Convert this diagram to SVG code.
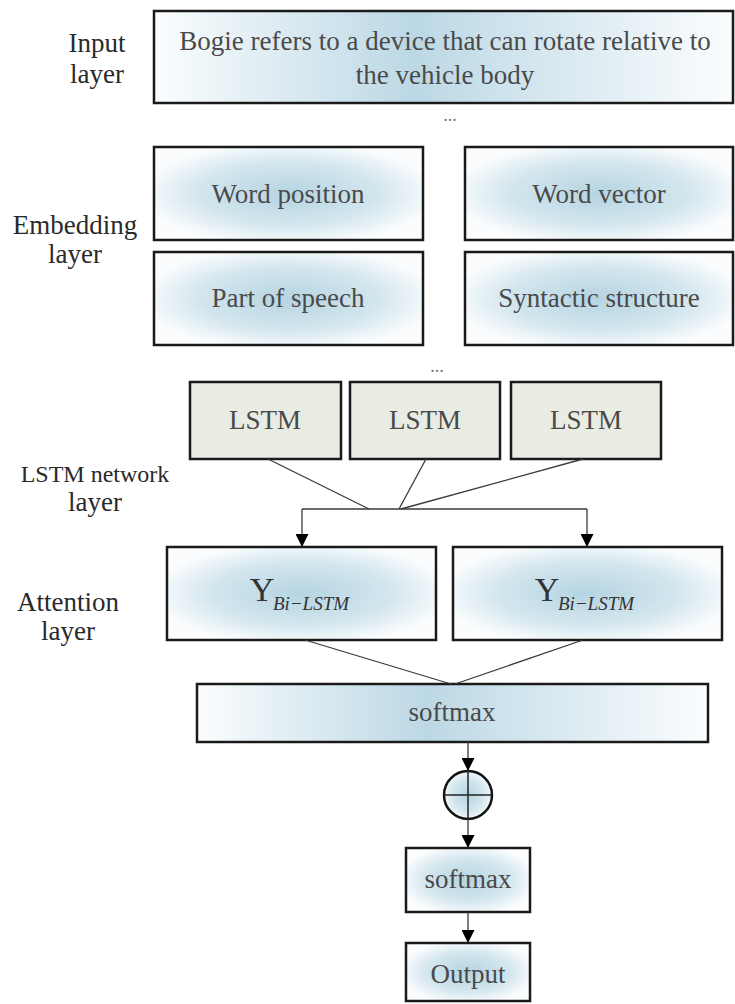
<svg xmlns="http://www.w3.org/2000/svg" width="735" height="1004" viewBox="0 0 735 1004">
<defs>
<radialGradient id="blue" cx="0.5" cy="0.5" r="0.55">
<stop offset="0" stop-color="#b5d4e2"/>
<stop offset="0.6" stop-color="#d3e6ee"/>
<stop offset="1" stop-color="#fafcfd"/>
</radialGradient>
<linearGradient id="bluelin" x1="0" y1="0" x2="1" y2="0">
<stop offset="0" stop-color="#fbfdfe"/>
<stop offset="0.45" stop-color="#bcd8e5"/>
<stop offset="1" stop-color="#fbfdfe"/>
</linearGradient>
<marker id="arr" viewBox="0 0 10 10" refX="10" refY="5" markerWidth="13" markerHeight="13" markerUnits="userSpaceOnUse" orient="auto">
<path d="M0,0 L10,5 L0,10 z" fill="#000"/>
</marker>
<style>
.box{fill:url(#blue);stroke:#1a1a1a;stroke-width:2.5}
.lbox{fill:url(#bluelin);stroke:#1a1a1a;stroke-width:2.5}
.gbox{fill:#e9ece3;stroke:#1a1a1a;stroke-width:2.5}
.t{font-family:'Liberation Serif',serif;font-size:27px;fill:#4a4a4a;text-anchor:middle}
.lab{font-family:'Liberation Serif',serif;font-size:27px;fill:#2a2a2a;text-anchor:middle}
.lab2{font-family:'Liberation Serif',serif;font-size:24px;fill:#2a2a2a;text-anchor:middle}
.y{font-family:'Liberation Serif',serif;font-size:34px;fill:#333;text-anchor:middle}
.sub{font-family:'Liberation Serif',serif;font-size:19px;font-style:italic;fill:#333;text-anchor:middle}
.con{stroke:#3a3a3a;stroke-width:1.3;fill:none}
.dots{font-family:'Liberation Serif',serif;font-size:18px;fill:#777;text-anchor:middle}
</style>
</defs>
<rect width="735" height="1004" fill="#fff"/>

<g id="labels">
<text class="lab" x="97" y="52">Input</text>
<text class="lab" x="97" y="83">layer</text>
<text class="lab" x="75" y="234">Embedding</text>
<text class="lab" x="75" y="263">layer</text>
<text class="lab2" x="95" y="482">LSTM network</text>
<text class="lab" x="95" y="511">layer</text>
<text class="lab" x="68" y="611">Attention</text>
<text class="lab" x="68" y="640">layer</text>
</g>

<g id="input">
<rect class="lbox" x="154" y="11" width="579" height="92"/>
<text class="t" x="445" y="50">Bogie refers to a device that can rotate relative to</text>
<text class="t" x="445" y="84">the vehicle body</text>
</g>
<text class="dots" x="450" y="121">...</text>

<g id="word-position">
<rect class="box" x="154" y="147" width="269" height="93"/>
<text class="t" x="288" y="203">Word position</text>
</g>
<g id="word-vector">
<rect class="box" x="465" y="147" width="268" height="93"/>
<text class="t" x="599" y="203">Word vector</text>
</g>
<g id="part-of-speech">
<rect class="box" x="154" y="252" width="269" height="93"/>
<text class="t" x="288" y="307">Part of speech</text>
</g>
<g id="syntactic-structure">
<rect class="box" x="465" y="252" width="268" height="93"/>
<text class="t" x="599" y="307">Syntactic structure</text>
</g>
<text class="dots" x="437" y="372">...</text>

<g id="lstm1">
<rect class="gbox" x="190" y="382" width="151" height="77"/>
<text class="t" x="265" y="429">LSTM</text>
</g>
<g id="lstm2">
<rect class="gbox" x="350" y="382" width="150" height="77"/>
<text class="t" x="425" y="429">LSTM</text>
</g>
<g id="lstm3">
<rect class="gbox" x="511" y="382" width="150" height="77"/>
<text class="t" x="586" y="429">LSTM</text>
</g>

<g id="attention1">
<rect class="box" x="167" y="547" width="269" height="93"/>
<text class="y" x="262" y="601">Y</text>
<text class="sub" x="311" y="610">Bi−LSTM</text>
</g>
<g id="attention2">
<rect class="box" x="453" y="547" width="269" height="93"/>
<text class="y" x="547" y="601">Y</text>
<text class="sub" x="596" y="610">Bi−LSTM</text>
</g>

<g id="softmax-wide">
<rect class="lbox" x="197" y="684" width="511" height="58"/>
<text class="t" x="452" y="721">softmax</text>
</g>

<g id="sum">
<circle cx="468" cy="795" r="24" fill="url(#blue)" stroke="#111" stroke-width="2.5"/>
<line x1="444" y1="795" x2="492" y2="795" stroke="#222" stroke-width="1.5"/>
<line x1="468" y1="771" x2="468" y2="819" stroke="#222" stroke-width="1.5"/>
</g>

<g id="softmax-small">
<rect class="box" x="406" y="848" width="124" height="64"/>
<text class="t" x="468" y="888">softmax</text>
</g>
<g id="output">
<rect class="box" x="406" y="943" width="124" height="58"/>
<text class="t" x="468" y="983">Output</text>
</g>

<g id="connectors">
<line class="con" x1="268" y1="459" x2="369" y2="509"/>
<line class="con" x1="426" y1="459" x2="399" y2="509"/>
<line class="con" x1="583" y1="459" x2="401" y2="509"/>
<line class="con" x1="302" y1="509" x2="587" y2="509"/>
<line class="con" x1="302" y1="509" x2="302" y2="547" marker-end="url(#arr)"/>
<line class="con" x1="587" y1="509" x2="587" y2="547" marker-end="url(#arr)"/>
<line class="con" x1="305" y1="640" x2="451" y2="684"/>
<line class="con" x1="583" y1="640" x2="455" y2="684"/>
<line class="con" x1="468" y1="742" x2="468" y2="771" marker-end="url(#arr)"/>
<line class="con" x1="468" y1="819" x2="468" y2="848" marker-end="url(#arr)"/>
<line class="con" x1="468" y1="912" x2="468" y2="943" marker-end="url(#arr)"/>
</g>
</svg>
